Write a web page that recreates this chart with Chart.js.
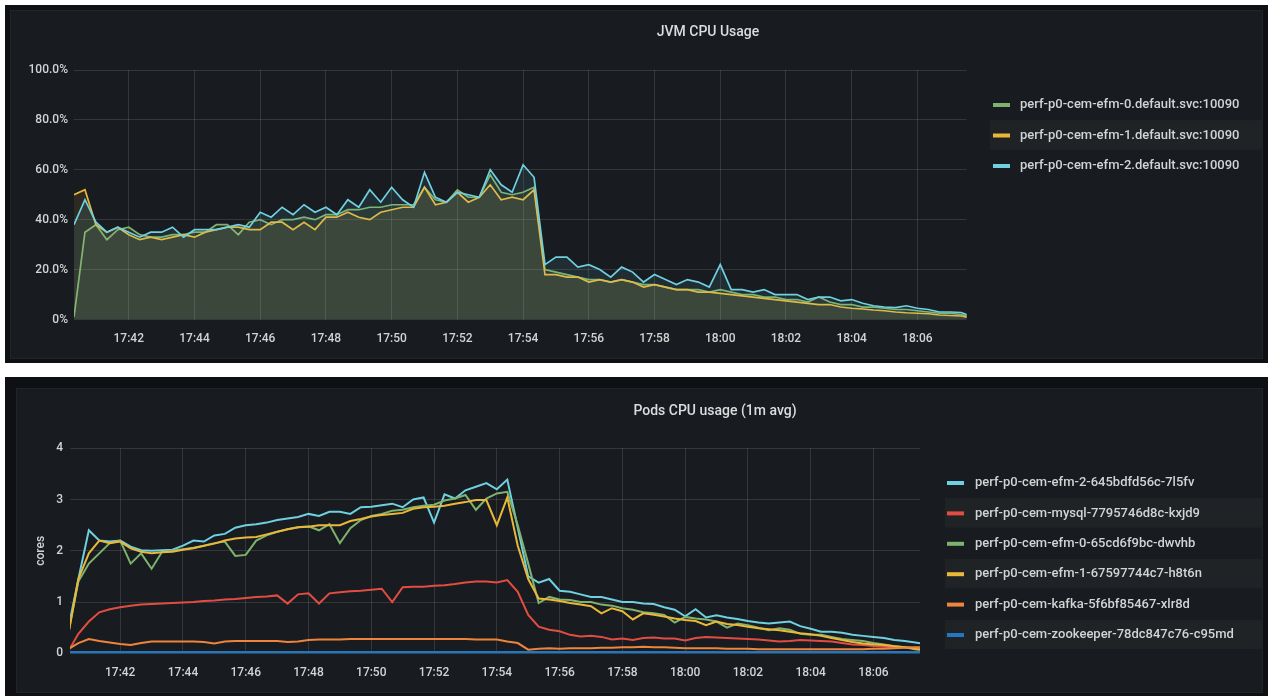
<!DOCTYPE html>
<html>
<head>
<meta charset="utf-8">
<title>JVM / Pods CPU usage</title>
<script src="https://cdn.jsdelivr.net/npm/chart.js@4.4.1/dist/chart.umd.min.js"></script>
<style>
    html, body { margin: 0; padding: 0; background: #ffffff; }
    body { position: relative; width: 1270px; height: 696px; overflow: hidden; }
    .outer { position: absolute; background: #0f1013; }
    .panel { position: absolute; background: #181b1f; box-shadow: 0 0 0 1px #202328; }
    canvas { position: absolute; }
</style>
</head>
<body>
<div class="outer" style="left:5px;top:5px;width:1263px;height:358px"></div>
<div class="panel" style="left:11px;top:11px;width:1251px;height:347px"></div>
<canvas id="jvmChart" width="1251" height="347" style="left:11px;top:11px"></canvas>

<div class="outer" style="left:5px;top:377px;width:1263px;height:319px"></div>
<div class="panel" style="left:17px;top:389px;width:1245px;height:303px"></div>
<canvas id="podsChart" width="1245" height="303" style="left:17px;top:389px"></canvas>

<script>
// sample times, every 20s
const times = [
    '17:40:20', '17:40:40',
    '17:41:00', '17:41:20', '17:41:40', '17:42:00', '17:42:20', '17:42:40',
    '17:43:00', '17:43:20', '17:43:40', '17:44:00', '17:44:20', '17:44:40',
    '17:45:00', '17:45:20', '17:45:40', '17:46:00', '17:46:20', '17:46:40',
    '17:47:00', '17:47:20', '17:47:40', '17:48:00', '17:48:20', '17:48:40',
    '17:49:00', '17:49:20', '17:49:40', '17:50:00', '17:50:20', '17:50:40',
    '17:51:00', '17:51:20', '17:51:40', '17:52:00', '17:52:20', '17:52:40',
    '17:53:00', '17:53:20', '17:53:40', '17:54:00', '17:54:20', '17:54:40',
    '17:55:00', '17:55:20', '17:55:40', '17:56:00', '17:56:20', '17:56:40',
    '17:57:00', '17:57:20', '17:57:40', '17:58:00', '17:58:20', '17:58:40',
    '17:59:00', '17:59:20', '17:59:40', '18:00:00', '18:00:20', '18:00:40',
    '18:01:00', '18:01:20', '18:01:40', '18:02:00', '18:02:20', '18:02:40',
    '18:03:00', '18:03:20', '18:03:40', '18:04:00', '18:04:20', '18:04:40',
    '18:05:00', '18:05:20', '18:05:40', '18:06:00', '18:06:20', '18:06:40',
    '18:07:00', '18:07:20', '18:07:40'
];
const xTickLabels = ['17:42', '17:44', '17:46', '17:48', '17:50', '17:52', '17:54',
    '17:56', '17:58', '18:00', '18:02', '18:04', '18:06'];

// JVM CPU Usage (%)
const jvmLabels = [
    'perf-p0-cem-efm-0.default.svc:10090',
    'perf-p0-cem-efm-1.default.svc:10090',
    'perf-p0-cem-efm-2.default.svc:10090'
];
const jvmYLabels = ['0%', '20.0%', '40.0%', '60.0%', '80.0%', '100.0%'];
const jvmEfm0 = [
    1, 35, 38, 32, 36, 37, 34, 33, 33, 34,
    34, 35, 35, 38, 38, 34, 39, 40, 38, 40,
    40, 41, 40, 42, 42, 44, 44, 45, 45, 46,
    46, 46, 53, 48, 47, 52, 49, 49, 58, 51,
    50, 51, 53, 20, 19, 18, 17, 16, 16, 15,
    16, 15, 14, 14, 13, 12, 12, 12, 11, 12,
    11, 10, 10, 9, 9, 8, 8, 7, 9, 7,
    6, 6, 5, 5, 4.5, 4, 4, 3.5, 3, 2.5,
    2.5, 2, 1
];
const jvmEfm1 = [
    50, 52, 38, 35, 37, 34, 32, 33, 32, 33,
    34, 33, 35, 36, 37, 37, 36, 36, 39, 39,
    36, 39, 36, 41, 41, 43, 41, 40, 43, 44,
    45, 45, 53, 46, 47, 51, 47, 49, 54, 48,
    49, 48, 52, 18, 18, 17, 17, 15, 16, 15,
    16, 15, 13, 14, 13, 12, 12, 11, 11, 10.5,
    10, 9.5, 9, 8.5, 8, 7.5, 7, 6.5, 6, 6,
    5, 4.5, 4.2, 3.8, 3.5, 3, 2.7, 2.5, 2.3, 1.8,
    1.6, 1.4, 0.5
];
const jvmEfm2 = [
    38, 48, 39, 35, 37, 35, 33, 35, 35, 37,
    33, 36, 36, 36, 37, 38, 37, 43, 41, 45,
    42, 46, 43, 45, 42, 48, 45, 52, 47, 53,
    48, 45, 59, 49, 47, 51, 50, 49, 60, 54,
    51, 62, 57, 22, 25, 25, 21, 22, 20, 17,
    21, 19, 15, 18, 16, 14, 16, 15, 13, 22,
    12, 12, 11, 12, 10, 10, 10, 8, 9, 9,
    7.5, 8, 6.5, 5.5, 5, 4.8, 5.5, 4.5, 4, 3,
    3, 2.8, 1.2
];

// Pods CPU usage (cores)
const podLabels = [
    'perf-p0-cem-efm-2-645bdfd56c-7l5fv',
    'perf-p0-cem-mysql-7795746d8c-kxjd9',
    'perf-p0-cem-efm-0-65cd6f9bc-dwvhb',
    'perf-p0-cem-efm-1-67597744c7-h8t6n',
    'perf-p0-cem-kafka-5f6bf85467-xlr8d',
    'perf-p0-cem-zookeeper-78dc847c76-c95md'
];
const podYLabels = ['0', '1', '2', '3', '4'];
const podEfm2 = [
    0.45, 1.45, 2.4, 2.2, 2.18, 2.2, 2.08, 2.01, 2.0, 2.01,
    2.02, 2.1, 2.2, 2.18, 2.3, 2.33, 2.45, 2.5, 2.52, 2.55,
    2.6, 2.63, 2.66, 2.72, 2.68, 2.76, 2.76, 2.72, 2.85, 2.86,
    2.89, 2.92, 2.85, 3.0, 3.04, 2.55, 3.1, 3.02, 3.18, 3.25,
    3.32, 3.2, 3.39, 2.45, 1.5, 1.38, 1.45, 1.22, 1.2, 1.15,
    1.1, 1.1, 1.05, 1.0, 1.0, 0.97, 0.96, 0.9, 0.85, 0.72,
    0.86, 0.7, 0.74, 0.7, 0.67, 0.63, 0.6, 0.58, 0.6, 0.62,
    0.53, 0.48, 0.42, 0.42, 0.4, 0.36, 0.34, 0.32, 0.3, 0.26,
    0.24, 0.21, 0.18
];
const podMysql = [
    0.03, 0.38, 0.62, 0.8, 0.86, 0.9, 0.93, 0.95, 0.96, 0.97,
    0.98, 0.99, 1.0, 1.02, 1.03, 1.05, 1.06, 1.08, 1.1, 1.11,
    1.13, 0.97, 1.15, 1.17, 0.97, 1.17, 1.19, 1.21, 1.22, 1.24,
    1.26, 1.0, 1.29, 1.3, 1.3, 1.32, 1.33, 1.35, 1.38, 1.4,
    1.4, 1.38, 1.43, 1.2, 0.75, 0.52, 0.46, 0.43, 0.36, 0.33,
    0.34, 0.32, 0.27, 0.29, 0.26, 0.3, 0.31, 0.29, 0.29, 0.25,
    0.3, 0.32, 0.31, 0.3, 0.29, 0.28, 0.27, 0.25, 0.23, 0.24,
    0.26, 0.25, 0.24, 0.23, 0.2, 0.17, 0.16, 0.14, 0.13, 0.12,
    0.12, 0.11, 0.1
];
const podEfm0 = [
    0.35, 1.4, 1.75, 1.95, 2.15, 2.2, 1.75, 1.95, 1.65, 1.98,
    2.0, 2.03, 2.06, 2.1, 2.15, 2.18, 1.9, 1.92, 2.2, 2.3,
    2.37, 2.42, 2.46, 2.48, 2.4, 2.52, 2.15, 2.44, 2.6, 2.68,
    2.72, 2.78, 2.8, 2.85, 2.88, 2.9, 2.98, 3.02, 3.09, 2.8,
    3.02, 3.12, 3.15, 2.5, 1.75, 0.98, 1.1, 1.05, 1.04, 1.0,
    1.0, 0.95, 0.93, 0.88, 0.85, 0.8, 0.78, 0.75, 0.6, 0.71,
    0.68, 0.66, 0.62, 0.5, 0.58, 0.55, 0.5, 0.45, 0.49, 0.46,
    0.38, 0.36, 0.36, 0.32, 0.28, 0.26, 0.24, 0.2, 0.17, 0.14,
    0.12, 0.1, 0.09
];
const podEfm1 = [
    0.32, 1.45, 1.95, 2.2, 2.15, 2.18, 2.05, 1.98, 1.95, 1.97,
    1.98, 2.02, 2.05, 2.1, 2.14, 2.2, 2.24, 2.26, 2.27, 2.32,
    2.37, 2.42, 2.46, 2.47, 2.5, 2.5, 2.5, 2.58, 2.62, 2.67,
    2.7, 2.72, 2.74, 2.82, 2.85, 2.86, 2.88, 2.92, 2.95, 2.99,
    2.99, 2.5, 3.04, 2.1, 1.45, 1.07, 1.05, 1.02, 0.98, 0.95,
    0.92, 0.78, 0.88, 0.82, 0.66, 0.78, 0.75, 0.72, 0.68, 0.65,
    0.63, 0.55, 0.62, 0.57, 0.55, 0.52, 0.49, 0.47, 0.45, 0.42,
    0.39, 0.37, 0.34, 0.3, 0.26, 0.22, 0.19, 0.17, 0.16, 0.14,
    0.12, 0.08, 0.06
];
const podKafka = [
    0.08, 0.2, 0.28, 0.24, 0.21, 0.18, 0.16, 0.2, 0.23, 0.23,
    0.23, 0.23, 0.23, 0.22, 0.19, 0.23, 0.24, 0.24, 0.24, 0.24,
    0.24, 0.22, 0.23, 0.26, 0.27, 0.27, 0.27, 0.28, 0.28, 0.28,
    0.28, 0.28, 0.28, 0.28, 0.28, 0.28, 0.28, 0.28, 0.28, 0.27,
    0.27, 0.27, 0.23, 0.2, 0.07, 0.09, 0.1, 0.09, 0.1, 0.1,
    0.1, 0.11, 0.11, 0.12, 0.12, 0.13, 0.12, 0.12, 0.11, 0.1,
    0.1, 0.1, 0.1, 0.09, 0.09, 0.09, 0.08, 0.08, 0.08, 0.08,
    0.08, 0.08, 0.08, 0.08, 0.08, 0.08, 0.08, 0.09, 0.09, 0.1,
    0.11, 0.12, 0.12
];
const podZookeeper = [
    0.01, 0.01, 0.01, 0.01, 0.01, 0.01, 0.01, 0.01, 0.01, 0.01,
    0.01, 0.01, 0.01, 0.01, 0.01, 0.01, 0.01, 0.01, 0.01, 0.01,
    0.01, 0.01, 0.01, 0.01, 0.01, 0.01, 0.01, 0.01, 0.01, 0.01,
    0.01, 0.01, 0.01, 0.01, 0.01, 0.01, 0.01, 0.01, 0.01, 0.01,
    0.01, 0.01, 0.01, 0.01, 0.01, 0.01, 0.01, 0.01, 0.01, 0.01,
    0.01, 0.01, 0.01, 0.01, 0.01, 0.01, 0.01, 0.01, 0.01, 0.01,
    0.01, 0.01, 0.01, 0.01, 0.01, 0.01, 0.01, 0.01, 0.01, 0.01,
    0.01, 0.01, 0.01, 0.01, 0.01, 0.01, 0.01, 0.01, 0.01, 0.01,
    0.01, 0.01, 0.01
];

// grafana classic palette
const COLORS = {
    green: '#7EB26D', yellow: '#EAB839', cyan: '#6ED0E0',
    orange: '#EF843C', red: '#E24D42', blue: '#1F78C1'
};
const GRID = 'rgba(255, 255, 255, 0.12)';
const TEXT = '#d2d3d5';

Chart.defaults.font.family = 'Roboto, "Open Sans", sans-serif';
Chart.defaults.font.size = 12;
Chart.defaults.font.weight = '500';
Chart.defaults.color = TEXT;

// minutes after 17:40
function toMin(s) {
    const [h, m, sec = 0] = s.split(':').map(Number);
    return h * 60 + m + sec / 60 - (17 * 60 + 40);
}
function points(values) {
    return values.map((v, i) => ({ x: toMin(times[i]), y: v }));
}
function hexA(hex, a) {
    const n = parseInt(hex.slice(1), 16);
    return `rgba(${n >> 16}, ${(n >> 8) & 255}, ${n & 255}, ${a})`;
}

// panel title + grafana style legend on the right
const panelDecor = {
    id: 'panelDecor',
    afterDraw(chart, args, opts) {
        const ctx = chart.ctx;
        ctx.save();
        ctx.font = '500 14px Roboto, sans-serif';
        ctx.fillStyle = '#dcdddf';
        ctx.textAlign = 'center';
        ctx.textBaseline = 'middle';
        ctx.fillText(opts.title, opts.titleX, opts.titleY);

        ctx.font = '500 13px Roboto, sans-serif';
        ctx.textAlign = 'left';
        chart.data.datasets.forEach((ds, i) => {
            const y = opts.legendY + i * opts.rowGap;
            if (opts.stripes.includes(i)) {
                ctx.fillStyle = 'rgba(255, 255, 255, 0.035)';
                ctx.fillRect(opts.stripeX, y - opts.rowGap / 2, chart.width - opts.stripeX, opts.rowGap - 1);
            }
            ctx.fillStyle = ds.borderColor;
            ctx.fillRect(opts.legendX, y - 2, 17, 4);
            ctx.fillStyle = TEXT;
            ctx.fillText(ds.label, opts.legendX + opts.textGap, y);
        });
        ctx.restore();
    }
};

function xAxis(minT, maxT, height) {
    return {
        type: 'linear',
        min: toMin(minT),
        max: toMin(maxT),
        afterBuildTicks: s => { s.ticks = xTickLabels.map(l => ({ value: toMin(l) })); },
        afterFit: s => { s.height = height; },
        grid: { color: GRID, drawTicks: false },
        border: { display: false },
        ticks: {
            padding: 12, maxRotation: 0, autoSkip: false,
            callback: (v, i) => xTickLabels[i]
        }
    };
}

function series(label, values, color, order, width, fill) {
    return {
        label: label,
        data: points(values),
        borderColor: color,
        backgroundColor: fill ? hexA(color, 0.1) : color,
        borderWidth: width,
        fill: fill ? 'origin' : false,
        tension: 0,
        pointRadius: 0,
        order: order
    };
}

// JVM CPU Usage
new Chart(document.getElementById('jvmChart'), {
    type: 'line',
    data: {
        datasets: [
            series(jvmLabels[0], jvmEfm0, COLORS.green, 3, 1.7, true),
            series(jvmLabels[1], jvmEfm1, COLORS.yellow, 2, 1.7, true),
            series(jvmLabels[2], jvmEfm2, COLORS.cyan, 1, 1.7, true)
        ]
    },
    options: {
        responsive: false,
        animation: false,
        layout: { padding: { left: 0, top: 59, right: 295.3, bottom: 0 } },
        plugins: {
            legend: { display: false },
            tooltip: { enabled: false },
            panelDecor: {
                title: 'JVM CPU Usage', titleX: 697, titleY: 21,
                legendX: 982, legendY: 94, rowGap: 30.5, textGap: 27,
                stripes: [1], stripeX: 979
            }
        },
        scales: {
            x: xAxis('17:40:20', '18:07:30', 38.5),
            y: {
                min: 0,
                max: 100,
                afterFit: s => { s.width = 63; },
                grid: { color: GRID, drawTicks: false },
                border: { display: false },
                ticks: { stepSize: 20, padding: 6, callback: (v, i) => jvmYLabels[i] }
            }
        }
    },
    plugins: [panelDecor]
});

// Pods CPU usage (1m avg)
const podColors = [COLORS.cyan, COLORS.red, COLORS.green, COLORS.yellow, COLORS.orange, COLORS.blue];
const podValues = [podEfm2, podMysql, podEfm0, podEfm1, podKafka, podZookeeper];

new Chart(document.getElementById('podsChart'), {
    type: 'line',
    data: {
        datasets: podLabels.map((label, k) =>
            series(label, podValues[k], podColors[k], 10 - k, k === 5 ? 3.5 : 2, false))
    },
    options: {
        responsive: false,
        animation: false,
        layout: { padding: { left: 0, top: 59.3, right: 342, bottom: 0 } },
        plugins: {
            legend: { display: false },
            tooltip: { enabled: false },
            panelDecor: {
                title: 'Pods CPU usage (1m avg)', titleX: 698, titleY: 22,
                legendX: 930, legendY: 94, rowGap: 30.4, textGap: 28,
                stripes: [1, 3, 5], stripeX: 928
            }
        },
        scales: {
            x: xAxis('17:40:24', '18:07:29', 38.7),
            y: {
                min: 0,
                max: 4,
                afterFit: s => { s.width = 53; },
                grid: { color: GRID, drawTicks: false },
                border: { display: false },
                title: { display: true, text: 'cores', font: { size: 12 }, padding: { top: 17, bottom: 0 } },
                ticks: { stepSize: 1, padding: 7, callback: (v, i) => podYLabels[i] }
            }
        }
    },
    plugins: [panelDecor]
});
</script>
</body>
</html>
